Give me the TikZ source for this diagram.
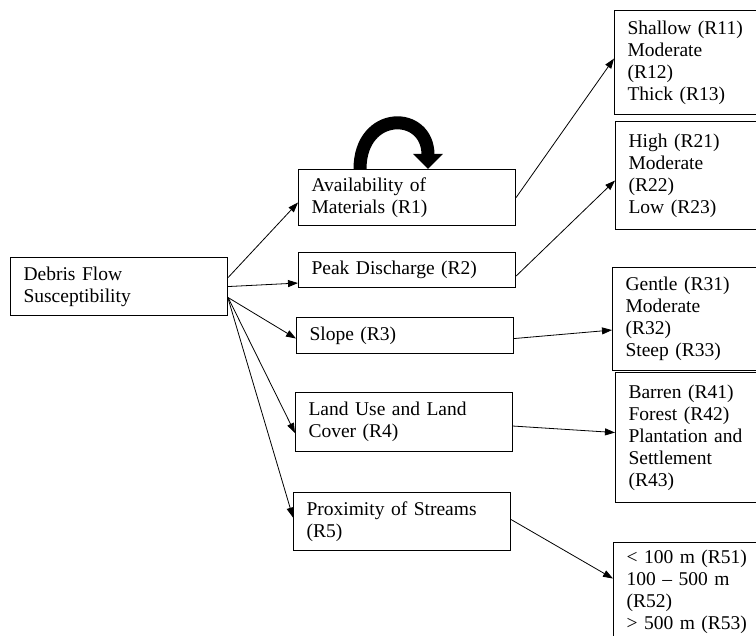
\documentclass[tikz,border=0pt]{standalone}
\usepackage{fontspec}
\setmainfont{Liberation Serif}
\usetikzlibrary{arrows.meta}
\tikzset{
  box/.style={draw, line width=1.1pt, anchor=north west, inner xsep=13pt, inner ysep=0pt,
    text width=191pt, align=left, font=\fontsize{19.5}{22}\selectfont},
  cls/.style={box, text width=140pt},
  link/.style={line width=0.8pt, -{Triangle[length=10pt,width=7pt]}},
  turn/.style={line width=13pt, -{Triangle[length=15pt,width=29pt]}}
}

\begin{document}
\begin{tikzpicture}[x=1pt, y=-1pt]
    \path[use as bounding box, fill=white] (0,0) rectangle (756,636);
    % factors
    \node[box, minimum height=58pt] (dfs) at (10,257) {Debris Flow\\Susceptibility};
    \node[box, minimum height=56pt] (avail) at (298,169) {Availability of\\Materials (R1)};
    \node[box, minimum height=35pt] (peak) at (298,252) {Peak Discharge (R2)};
    \node[box, minimum height=36pt] (slope) at (296,317) {Slope (R3)};
    \node[box, minimum height=59pt] (lulc) at (295,392) {Land Use and Land\\Cover (R4)};
    \node[box, minimum height=58pt] (prox) at (293,492) {Proximity of Streams\\(R5)};
    % classes
    \node[cls, minimum height=104pt] (c1) at (614,10) {Shallow (R11)\\Moderate\\(R12)\\Thick (R13)};
    \node[cls, minimum height=108pt] (c2) at (615,121) {High (R21)\\Moderate\\(R22)\\Low (R23)};
    \node[cls, minimum height=103pt] (c3) at (612,267) {Gentle (R31)\\Moderate\\(R32)\\Steep (R33)};
    \node[cls, minimum height=130pt] (c4) at (615,372) {Barren (R41)\\Forest (R42)\\Plantation and\\Settlement\\(R43)};
    \node[cls, minimum height=98pt] (c5) at (613,542) {< 100 m (R51)\\100 – 500 m\\(R52)\\> 500 m (R53)};
    % links
    \draw[link] ([yshift=9pt]dfs.east) -- ([yshift=-5pt]avail.west);
    \draw[link] (dfs.east) -- ([yshift=-13pt]peak.west);
    \draw[link] ([yshift=-11pt]dfs.east) -- ([yshift=-3pt]slope.west);
    \draw[link] ([yshift=-11pt]dfs.east) -- ([yshift=-11pt]lulc.west);
    \draw[link] ([yshift=-12pt]dfs.east) -- ([yshift=4pt]prox.west);
    \draw[link] (avail.east) -- ([yshift=4pt]c1.west);
    \draw[link] ([yshift=-6pt]peak.east) -- ([yshift=-5pt]c2.west);
    \draw[link] ([yshift=-3pt]slope.east) -- ([yshift=-11pt]c3.west);
    \draw[link] ([yshift=-4pt]lulc.east) -- ([yshift=5pt]c4.west);
    \draw[link] ([yshift=2pt]prox.east) -- ([yshift=13pt]c5.west);
    \draw[turn] ([xshift=62pt]avail.north west) .. controls +(0,-59) and +(0,-59) .. ([xshift=130pt]avail.north west);
\end{tikzpicture}
\end{document}
